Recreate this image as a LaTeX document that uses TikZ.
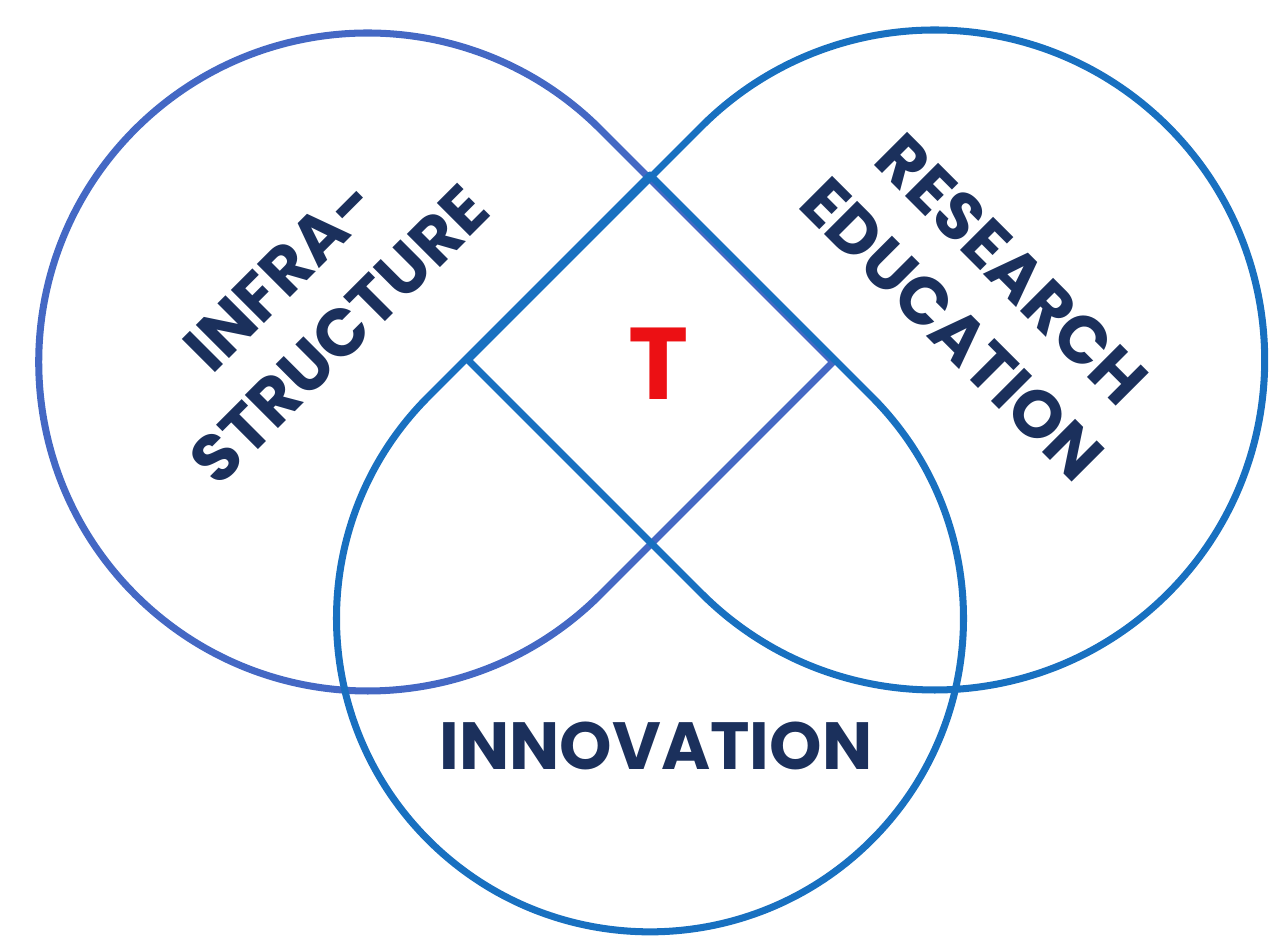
\documentclass[tikz,border=0pt]{standalone}
\usepackage{fontspec}
\newfontfamily\pop{Poppins}
\definecolor{leftblue}{RGB}{68,104,196}
\definecolor{mainblue}{RGB}{24,112,192}
\definecolor{navy}{RGB}{27,48,92}
\definecolor{tred}{RGB}{236,16,20}
\begin{document}
\begin{tikzpicture}[
  shapeline/.style={line width=4pt, line join=round},
  lbl/.style={text=navy, font=\pop\bfseries\fontsize{38}{48}\selectfont, align=center, inner sep=0pt}
]
\useasboundingbox (0,0) rectangle (25.42,18.74);
% corners of the three tear-drop shapes
\coordinate (R) at (16.66,11.50);  % corner of infrastructure shape
\coordinate (L) at (9.36,11.54);   % corner of research/education shape
\coordinate (T) at (13.00,15.24);  % corner of innovation shape
% infrastructure shape
\draw[shapeline, leftblue] (R) -- ++(135:6.58) arc[start angle=45, end angle=315, radius=6.58] -- cycle;
% research / education shape
\draw[shapeline, mainblue] (L) -- ++(45:6.6) arc[start angle=135, end angle=-135, radius=6.6] -- cycle;
% innovation shape
\draw[shapeline, mainblue] (T) -- ++(225:6.27) arc[start angle=135, end angle=405, radius=6.27] -- cycle;
% labels
\node[lbl, rotate=45] (infra) at (6.20,12.64) {INFRA-\\STRUCTURE};
\node[lbl, rotate=-45] (research) at (19.64,12.76) {RESEARCH\\EDUCATION};
\node[lbl] (innov) at (13.12,3.82) {INNOVATION};
\node[text=tred, font=\pop\bfseries\fontsize{58}{60}\selectfont, inner sep=0pt] (t) at (13.18,11.46) {T};
\end{tikzpicture}
\end{document}
